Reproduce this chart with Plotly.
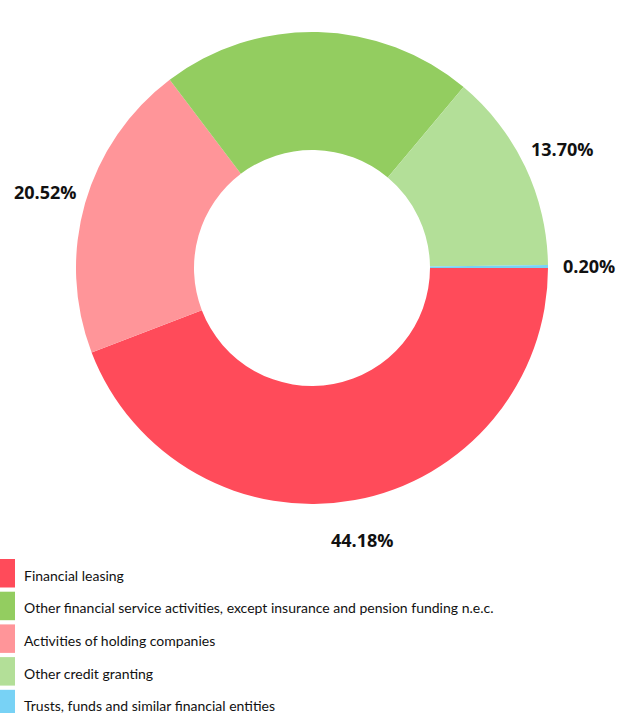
import math
import plotly.graph_objects as go

# Data (drawing order, clockwise from 3 o'clock)
pie_labels = ["Financial leasing",
              "Activities of holding companies",
              "Other financial service activities, except insurance and pension funding n.e.c.",
              "Other credit granting",
              "Trusts, funds and similar financial entities"]
pie_values = [44.18, 20.52, 21.40, 13.70, 0.20]
pie_colors = ["#FF4B5A", "#FF9599", "#93CD60", "#B3DF98", "#78D2F5"]

# Legend order (as in reference)
legend_labels = ["Financial leasing",
                 "Other financial service activities, except insurance and pension funding n.e.c.",
                 "Activities of holding companies",
                 "Other credit granting",
                 "Trusts, funds and similar financial entities"]
legend_colors = ["#FF4B5A", "#93CD60", "#FF9599", "#B3DF98", "#78D2F5"]

W, H = 617, 713
cx, cy, R = 312, 268, 236  # px, from top-left
dom_x = [(cx - R) / W, (cx + R) / W]
dom_y = [(H - cy - R) / H, (H - cy + R) / H]

fig = go.Figure()
fig.add_trace(go.Pie(
    labels=pie_labels, values=pie_values,
    marker=dict(colors=pie_colors, line=dict(width=0)),
    hole=0.5, sort=False, direction="clockwise", rotation=90,
    textinfo="none", showlegend=False,
    domain=dict(x=dom_x, y=dom_y),
))

annotations = []
total = sum(pie_values)
cum = 0.0
label_r = 277
for v in pie_values:
    mid = (cum + v / 2) / total * 2 * math.pi
    cum += v
    px = cx + label_r * math.cos(mid)
    py = cy + label_r * math.sin(mid)
    annotations.append(dict(
        x=px / W, y=1 - py / H, xref="paper", yref="paper",
        text=f"<b>{v:.2f}%</b>", showarrow=False,
        xanchor="center", yanchor="middle",
        font=dict(family="Open Sans", size=18, color="#111111"),
    ))

shapes = []
step = 32.7
for i, (lab, col) in enumerate(zip(legend_labels, legend_colors)):
    top = 559 + i * step
    bot = top + 28.5
    shapes.append(dict(type="rect", xref="paper", yref="paper",
                       x0=0, x1=15 / W, y0=1 - bot / H, y1=1 - top / H,
                       fillcolor=col, line=dict(width=0)))
    annotations.append(dict(
        x=22 / W, y=1 - (top + 16) / H, xref="paper", yref="paper",
        text=lab, showarrow=False, xanchor="left", yanchor="middle",
        font=dict(family="Lato", size=14, color="#111111"),
    ))

fig.update_layout(
    width=W, height=H,
    margin=dict(l=0, r=0, t=0, b=0),
    paper_bgcolor="white", plot_bgcolor="white",
    annotations=annotations, shapes=shapes,
)
fig.write_html(
    "out.html",
    config={"displayModeBar": False},
    post_script="document.body.style.margin='0';document.body.style.padding='0';"
                "document.body.style.overflow='hidden';",
)
